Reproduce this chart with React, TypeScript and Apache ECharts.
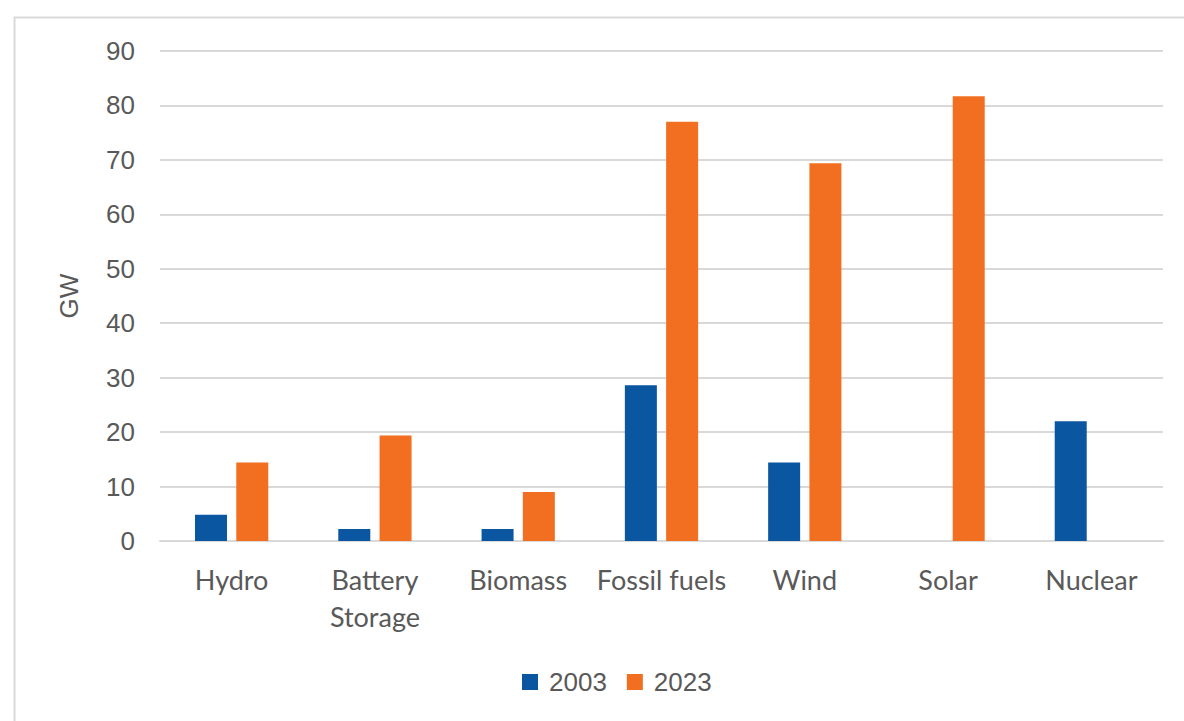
import React, { useEffect, useRef } from "react";
import * as echarts from "echarts";

// Installed generating capacity by source, in gigawatts
const categories = ["Hydro", "Battery\nStorage", "Biomass", "Fossil fuels", "Wind", "Solar", "Nuclear"];
const values2003 = [4.8, 2.2, 2.2, 28.6, 14.4, 0, 22.0];
const values2023 = [14.4, 19.4, 9.0, 77.0, 69.4, 81.7, 0];
const yTicks = { min: 0, max: 90, interval: 10 };

const BLUE = "#0A56A1";
const ORANGE = "#F26F21";
const TEXT = "#595959";
const GRID = "#D9D9D9";

export default function App() {
  const ref = useRef<HTMLDivElement>(null);

  useEffect(() => {
    if (!ref.current) return;
    const chart = echarts.init(ref.current, undefined, { renderer: "svg" });
    chart.setOption({
      animation: false,
      backgroundColor: "#ffffff",
      graphic: [
        {
          type: "rect",
          left: 12,
          top: 15,
          shape: { width: 1200, height: 800 },
          style: { fill: "none", stroke: GRID, lineWidth: 2 },
          silent: true,
        },
      ],
      grid: { left: 160, right: 21, top: 51, bottom: 180, containLabel: false },
      legend: {
        bottom: 21,
        left: 517,
        itemWidth: 16,
        itemHeight: 16,
        itemGap: 20,
        icon: "rect",
        textStyle: {
          fontFamily: "Liberation Sans, Arial",
          fontSize: 26,
          color: TEXT,
          padding: [0, 0, 0, 6],
        },
        data: ["2003", "2023"],
      },
      xAxis: {
        type: "category",
        data: categories,
        axisLine: { show: true, lineStyle: { color: GRID, width: 2 } },
        axisTick: { show: false },
        axisLabel: {
          interval: 0,
          margin: 20,
          fontFamily: "Lato, 'Open Sans', sans-serif",
          fontSize: 27,
          lineHeight: 37,
          color: TEXT,
        },
      },
      yAxis: {
        type: "value",
        min: yTicks.min,
        max: yTicks.max,
        interval: yTicks.interval,
        name: "GW",
        nameLocation: "middle",
        nameGap: 78,
        nameRotate: 90,
        nameTextStyle: { fontFamily: "Liberation Sans, Arial", fontSize: 26, color: TEXT },
        axisLine: { show: false },
        axisTick: { show: false },
        axisLabel: {
          margin: 25,
          fontFamily: "Liberation Sans, Arial",
          fontSize: 26,
          color: TEXT,
        },
        splitLine: { lineStyle: { color: GRID, width: 2 } },
      },
      series: [
        {
          name: "2003",
          type: "bar",
          data: values2003,
          barWidth: 32,
          barGap: "29%",
          itemStyle: { color: BLUE },
        },
        {
          name: "2023",
          type: "bar",
          data: values2023,
          barWidth: 32,
          barGap: "29%",
          itemStyle: { color: ORANGE },
        },
      ],
    });
    return () => chart.dispose();
  }, []);

  return (
    <div
      ref={ref}
      style={{ position: "fixed", left: 0, top: 0, width: 1184, height: 721, background: "#fff" }}
    />
  );
}
